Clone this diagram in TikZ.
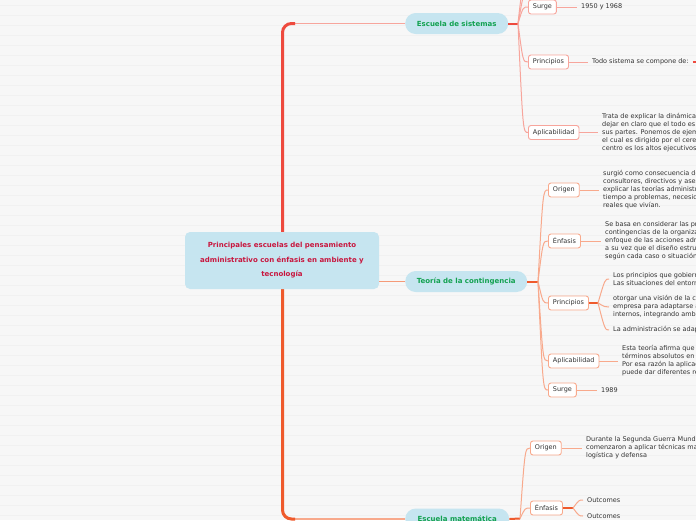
\documentclass[tikz,border=0pt]{standalone}
\usepackage{fontspec}
\setmainfont{DejaVu Sans}
\usetikzlibrary{calc}
\definecolor{bg}{HTML}{F7F7F7}
\definecolor{stripe}{HTML}{F1F1F1}
\definecolor{nodeblue}{HTML}{C6E5F0}
\definecolor{maintext}{HTML}{C8163E}
\definecolor{topictext}{HTML}{12A150}
\definecolor{trunkA}{HTML}{EE4A3E}
\definecolor{trunkB}{HTML}{EF5A2C}
\definecolor{lineA}{HTML}{F7A59C}
\definecolor{lineB}{HTML}{F8A98C}
\definecolor{lineC}{HTML}{F59A78}
\definecolor{txtc}{HTML}{333333}
\tikzset{
  mainbox/.style={rounded corners=5pt, fill=nodeblue, text=maintext, font=\fontsize{7}{14.5}\selectfont\bfseries, align=center, minimum width=194pt, minimum height=57pt, inner sep=0pt},
  topic/.style={rounded corners=10.5pt, fill=nodeblue, text=topictext, font=\fontsize{7}{8}\selectfont\bfseries, minimum height=21pt, inner sep=0pt, anchor=west},
  subA/.style={draw=lineA, line width=0.9pt, fill=white, rounded corners=2.5pt, text=txtc, font=\fontsize{6.5}{8}\selectfont, minimum height=14pt, inner xsep=4.5pt, inner ysep=0pt, anchor=west},
  subB/.style={subA, draw=lineB},
  body/.style={text=txtc, font=\fontsize{6.5}{8}\selectfont, align=left, anchor=west, inner xsep=4pt, inner ysep=0pt},
  brA/.style={draw=lineA, line width=1pt},
  brB/.style={draw=lineB, line width=1pt},
  hubA/.style={draw=trunkA, line width=2pt},
  hubB/.style={draw=trunkB, line width=2pt}
}
\begin{document}
\begin{tikzpicture}[x=1pt,y=-1pt]
\useasboundingbox (0,0) rectangle (696,520);
\clip (0,0) rectangle (696,520);
\fill[bg] (0,0) rectangle (696,520);
\foreach \k in {0,...,52} \draw[stripe, line width=1pt] (0,{\k*10+5}) -- (696,{\k*10+5});

% topic nodes
\node[topic, minimum width=103pt] (sys) at (405,23.5) {Escuela de sistemas};
\node[topic, minimum width=122pt] (teo) at (405,281.5) {Teoría de la contingencia};
\node[topic, minimum width=104pt] (mat) at (405,519) {Escuela matemática};

% trunk
\draw[line width=1.2pt, lineA] ([xshift=-112pt]sys.west) -- (sys.west);
\draw[line width=1.2pt, lineB] ([xshift=-112pt]mat.west) -- (mat.west);
\draw[trunkA, line width=3pt, rounded corners=9pt] (282.5,260) |- ([xshift=-110pt]sys.west);
\draw[trunkB, line width=3pt, rounded corners=9pt] (282.5,260) |- ([xshift=-110pt]mat.west);

% main node
\node[mainbox] (main) at (282,260.5) {Principales escuelas del pensamiento\\administrativo con énfasis en ambiente y\\tecnología};
\draw[line width=1.1pt, lineC] (main.east |- teo.west) -- (teo.west);

% ---------- Escuela de sistemas ----------
\coordinate (hs) at (518,23.5);
\draw[hubA] (sys.east) -- (hs);
\coordinate (up1) at (530,-30);
\coordinate (up2) at (530,-60);
\draw[brA] (hs) .. controls (523,-4) .. (up1);
\draw[brA] (hs) .. controls (521,-4) .. (up2);
\node[subA] (s1) at (528,7) {Surge};
\node[subA] (s2) at (528,62) {Principios};
\node[subA] (s3) at (528,132.5) {Aplicabilidad};
\foreach \n in {s1,s2,s3} \draw[brA] (hs) .. controls ([xshift=-5pt]\n.west) .. (\n.west);
\node[body] (st1) at (577,7) {1950 y 1968};
\node[body] (st2) at (588,62) {Todo sistema se compone de:};
\node[body] (st3) at (598,132.5) {Trata de explicar la dinámica de la organización, con el fin de\\dejar en claro que el todo es mayor que la suma de\\sus partes. Ponemos de ejemplo el cuerpo humano,\\el cual es dirigido por el cerebro, en la empresa el\\centro es los altos ejecutivos.};
\coordinate (off1) at (720,62);
\draw[brA] (s1.east) -- (st1.west);
\draw[brA] (s2.east) -- (st2.west);
\draw[hubA, line width=1.2pt] (st2.east) -- (off1);
\draw[brA] (s3.east) -- (st3.west);

% ---------- Teoría de la contingencia ----------
\coordinate (hc) at (538,281.5);
\draw[hubB] (teo.east) -- (hc);
\node[subB] (c1) at (548,190) {Origen};
\node[subB] (c2) at (548,241) {Énfasis};
\node[subB] (c3) at (548,303) {Principios};
\node[subB] (c4) at (548,361) {Aplicabilidad};
\node[subB] (c5) at (548,390) {Surge};
\foreach \n in {c1,c2,c3,c4,c5} \draw[brB] (hc) .. controls ([xshift=-5pt]\n.west) .. (\n.west);
\node[body] (ct1) at (599,190) {surgió como consecuencia de las investigaciones de\\consultores, directivos y asesores que trataban de\\explicar las teorías administrativas y al mismo\\tiempo a problemas, necesidades y situaciones\\reales que vivían.};
\node[body] (ct2) at (601,241) {Se basa en considerar las principales\\contingencias de la organización y el\\enfoque de las acciones administrativas\\a su vez que el diseño estructural\\según cada caso o situación.};
\coordinate (hp) at (598,303);
\draw[hubB, line width=1.5pt] (c3.east) -- (hp);
\node[body] (ct3a) at (609,279) {Los principios que gobiernan a la organización\\Las situaciones del entorno};
\node[body] (ct3b) at (609,307) {otorgar una visión de la capacidad de la\\empresa para adaptarse a los cambios\\internos, integrando ambos};
\node[body] (ct3c) at (609,330) {La administración se adapta};
\foreach \n in {ct3a,ct3b,ct3c} \draw[brB] (hp) .. controls ([xshift=-4pt]\n.west) .. (\n.west);
\node[body] (ct4) at (618,361) {Esta teoría afirma que no hay nada en\\términos absolutos en la administración.\\Por esa razón la aplicación\\puede dar diferentes resultados};
\node[body] (ct5) at (597,390) {1989};
\draw[brB] (c1.east) -- (ct1.west);
\draw[brB] (c2.east) -- (ct2.west);
\draw[brB] (c4.east) -- (ct4.west);
\draw[brB] (c5.east) -- (ct5.west);

% ---------- Escuela matemática ----------
\coordinate (hm) at (520,518.5);
\draw[hubB] (mat.east) -- (hm);
\node[subB] (m1) at (530,448) {Origen};
\node[subB] (m2) at (530,508) {Énfasis};
\foreach \n in {m1,m2} \draw[brB] (hm) .. controls ([xshift=-5pt]\n.west) .. (\n.west);
\node[body] (mt1) at (582,448) {Durante la Segunda Guerra Mundial\\comenzaron a aplicar técnicas matemáticas\\logística y defensa};
\draw[brB] (m1.east) -- (mt1.west);
\coordinate (hq) at (573,508);
\draw[hubB, line width=1.5pt] (m2.east) -- (hq);
\node[body] (o1) at (583,500) {Outcomes};
\node[body] (o2) at (583,516) {Outcomes};
\foreach \n in {o1,o2} \draw[brB] (hq) .. controls ([xshift=-4pt]\n.west) .. (\n.west);
\end{tikzpicture}
\end{document}
